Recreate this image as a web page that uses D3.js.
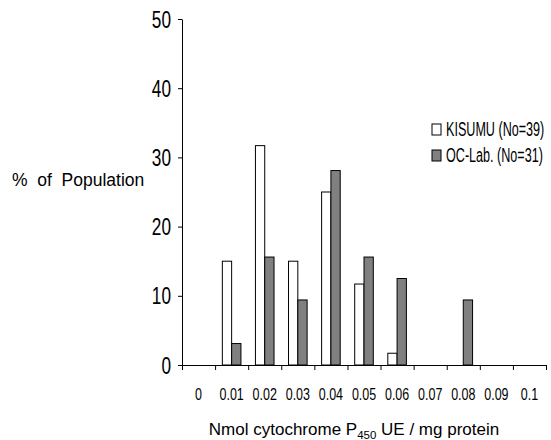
<!DOCTYPE html>
<html>
<head>
<meta charset="utf-8">
<script src="https://cdn.jsdelivr.net/npm/d3@7"></script>
<style>
  body { margin: 0; background: #fff; }
  svg { display: block; }
  text { font-family: "Liberation Sans", Arial, sans-serif; fill: #000; }
</style>
</head>
<body>
<svg id="chart" width="551" height="440"></svg>
<script>
// categories on the x axis
var categories = ["0", "0.01", "0.02", "0.03", "0.04", "0.05", "0.06", "0.07", "0.08", "0.09", "0.1"];
var seriesNames = ["KISUMU (No=39)", "OC-Lab. (No=31)"];
var kisumu = [0, 15, 31.7, 15, 25, 11.7, 1.7, 0, 0, 0, 0];
var ocLab  = [0, 3.1, 15.6, 9.4, 28.1, 15.6, 12.5, 0, 9.4, 0, 0];
var yTicks = [0, 10, 20, 30, 40, 50];
var colors = ["#ffffff", "#808080"];

var svg = d3.select("#chart");

var x = d3.scaleBand().domain(categories).range([182, 546]).padding(0);
var xEdge = d3.scaleLinear().domain([0, categories.length]).range([182, 546]);
var xSub = d3.scaleBand().domain(seriesNames).range([0, x.bandwidth()]).paddingInner(0).paddingOuter(0.78);
var y = d3.scaleLinear().domain([0, 50]).range([365, 19]);

// bars
var rows = [];
categories.forEach(function (c, i) {
  rows.push({ cat: c, s: seriesNames[0], v: kisumu[i], col: colors[0] });
  rows.push({ cat: c, s: seriesNames[1], v: ocLab[i], col: colors[1] });
});
svg.append("g").selectAll("rect")
  .data(rows.filter(function (d) { return d.v > 0; }))
  .enter().append("rect")
  .attr("x", function (d) { return x(d.cat) + xSub(d.s); })
  .attr("y", function (d) { return y(d.v); })
  .attr("width", xSub.bandwidth())
  .attr("height", function (d) { return y(0) - y(d.v); })
  .attr("fill", function (d) { return d.col; })
  .attr("stroke", "#000")
  .attr("stroke-width", 1);

// y axis
var yAxis = svg.append("g").attr("transform", "translate(182,0)")
  .call(d3.axisLeft(y).tickValues(yTicks).tickSize(4).tickSizeOuter(0).tickFormat(""));
yAxis.selectAll("line, path").attr("stroke", "#000");
svg.append("g").selectAll("text")
  .data(yTicks).enter().append("text")
  .attr("text-anchor", "end")
  .attr("font-size", 20)
  .attr("transform", function (d) { return "translate(171," + (y(d) + 8.5) + ") scale(0.86,1.19)"; })
  .text(function (d) { return d; });

// x axis: ticks on the bin edges
var xAxis = svg.append("g").attr("transform", "translate(0,365)")
  .call(d3.axisBottom(xEdge).tickValues(d3.range(categories.length + 1)).tickSize(5).tickSizeOuter(0).tickFormat(""));
xAxis.select(".domain").attr("d", "M178,0.5H546");
xAxis.selectAll("line, path").attr("stroke", "#000");
svg.append("g").selectAll("text")
  .data(categories).enter().append("text")
  .attr("text-anchor", "middle")
  .attr("font-size", 16)
  .attr("transform", function (d) { return "translate(" + (x(d) + x.bandwidth() / 2) + ",400) scale(0.78,1)"; })
  .text(function (d) { return d; });

// axis titles
svg.append("text")
  .attr("font-size", 17.5)
  .attr("x", 12).attr("y", 186)
  .style("white-space", "pre")
  .text("%  of  Population");

var xt = svg.append("text")
  .attr("font-size", 17)
  .attr("text-anchor", "middle")
  .attr("x", 354).attr("y", 435);
xt.append("tspan").text("Nmol cytochrome P");
xt.append("tspan").attr("font-size", 11.5).attr("dy", 4).text("450");
xt.append("tspan").attr("dy", -4).text(" UE / mg protein");

// legend
var leg = svg.append("g").selectAll("g")
  .data(seriesNames).enter().append("g")
  .attr("transform", function (d, i) { return "translate(432," + (124 + i * 26) + ")"; });
leg.append("rect")
  .attr("width", 9).attr("height", 11)
  .attr("fill", function (d, i) { return colors[i]; })
  .attr("stroke", "#000");
leg.append("text")
  .attr("font-size", 18)
  .attr("transform", "translate(14,11.5) scale(0.7,1.1)")
  .text(function (d) { return d; });
</script>
</body>
</html>
